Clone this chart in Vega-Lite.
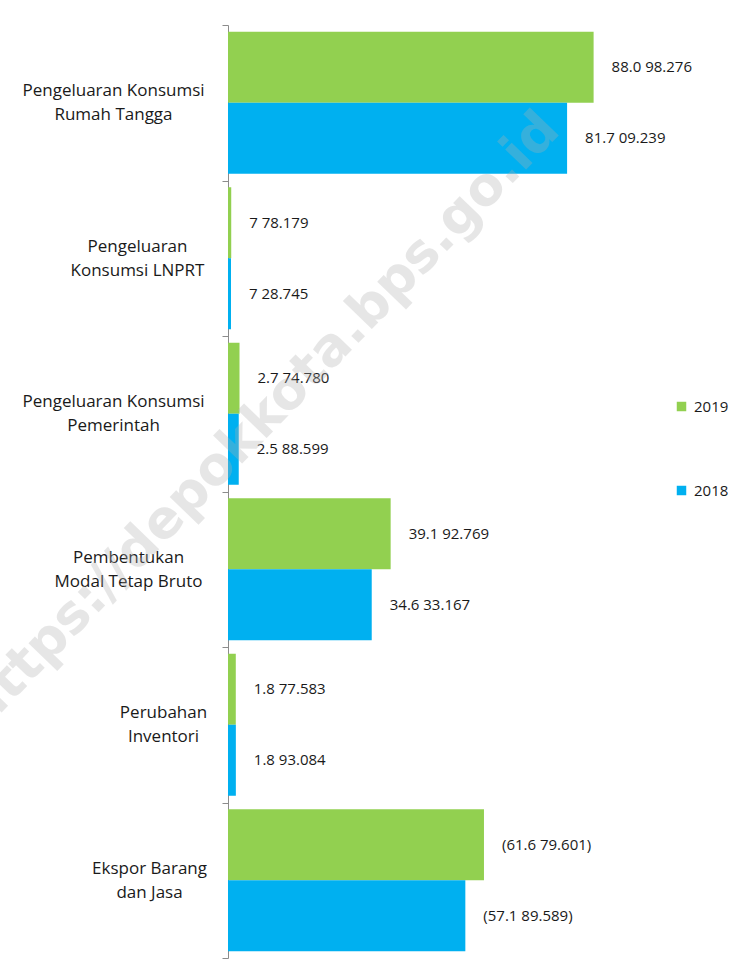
{
  "$schema": "https://vega.github.io/schema/vega-lite/v6.json",
  "width": 415,
  "height": 933,
  "autosize": {"type": "none"},
  "padding": {"left": 228, "top": 25, "right": 100, "bottom": 19},
  "background": "white",
  "config": {
    "view": {"stroke": null},
    "font": "Open Sans"
  },
  "layer": [
    {
      "data": {
        "values": [
          {"category": "Pengeluaran Konsumsi|Rumah Tangga", "year": "2019", "value": 88098.276, "label": "88.0 98.276"},
          {"category": "Pengeluaran Konsumsi|Rumah Tangga", "year": "2018", "value": 81709.239, "label": "81.7 09.239"},
          {"category": "Pengeluaran|Konsumsi LNPRT", "year": "2019", "value": 778.179, "label": "7 78.179"},
          {"category": "Pengeluaran|Konsumsi LNPRT", "year": "2018", "value": 728.745, "label": "7 28.745"},
          {"category": "Pengeluaran Konsumsi|Pemerintah", "year": "2019", "value": 2774.78, "label": "2.7 74.780"},
          {"category": "Pengeluaran Konsumsi|Pemerintah", "year": "2018", "value": 2588.599, "label": "2.5 88.599"},
          {"category": "Pembentukan|Modal Tetap Bruto", "year": "2019", "value": 39192.769, "label": "39.1 92.769"},
          {"category": "Pembentukan|Modal Tetap Bruto", "year": "2018", "value": 34633.167, "label": "34.6 33.167"},
          {"category": "Perubahan|Inventori", "year": "2019", "value": 1877.583, "label": "1.8 77.583"},
          {"category": "Perubahan|Inventori", "year": "2018", "value": 1893.084, "label": "1.8 93.084"},
          {"category": "Ekspor Barang|dan Jasa", "year": "2019", "value": 61679.601, "label": "(61.6 79.601)"},
          {"category": "Ekspor Barang|dan Jasa", "year": "2018", "value": 57189.589, "label": "(57.1 89.589)"}
        ]
      },
      "encoding": {
        "y": {
          "field": "category",
          "type": "nominal",
          "sort": null,
          "scale": {"paddingInner": 0, "paddingOuter": 0},
          "axis": {
            "title": null,
            "domainColor": "#8c8c8c",
            "tickColor": "#8c8c8c",
            "tickSize": 6,
            "tickBand": "extent",
            "labelAlign": "center",
            "labelBaseline": "middle",
            "labelPadding": {
              "condition": [
                {"test": "datum.value == 'Pengeluaran|Konsumsi LNPRT'", "value": 85},
                {"test": "datum.value == 'Pembentukan|Modal Tetap Bruto'", "value": 94},
                {"test": "datum.value == 'Perubahan|Inventori'", "value": 59},
                {"test": "datum.value == 'Ekspor Barang|dan Jasa'", "value": 73}
              ],
              "value": 109
            },
            "labelOffset": -12,
            "labelLimit": 300,
            "labelFontSize": 17,
            "labelColor": "#1a1a1a",
            "labelLineHeight": 24,
            "labelFont": "Open Sans",
            "labelExpr": "split(datum.label, '|')"
          }
        },
        "yOffset": {
          "field": "year",
          "type": "nominal",
          "sort": ["2019", "2018"],
          "scale": {"paddingInner": 0, "paddingOuter": 0.095}
        },
        "x": {
          "field": "value",
          "type": "quantitative",
          "scale": {"domain": [0, 100000], "nice": false},
          "axis": null
        }
      },
      "layer": [
        {
          "mark": {"type": "bar"},
          "encoding": {
            "color": {
              "field": "year",
              "type": "nominal",
              "scale": {"domain": ["2019", "2018"], "range": ["#92d050", "#00b0f0"]},
              "legend": {
                "title": null,
                "orient": "none",
                "legendX": 446,
                "legendY": 374,
                "symbolType": "square",
                "symbolSize": 90,
                "symbolStrokeWidth": 0,
                "rowPadding": 68,
                "labelFontSize": 15,
                "labelColor": "#1a1a1a",
                "labelOffset": 5
              }
            }
          }
        },
        {
          "mark": {"type": "text", "align": "left", "baseline": "middle", "dx": 18, "fontSize": 15, "color": "#1a1a1a"},
          "encoding": {"text": {"field": "label"}}
        }
      ]
    },
    {
      "data": {"values": [{"category": "Pengeluaran Konsumsi|Pemerintah", "value": 6600, "wm": "https://depokkota.bps.go.id"}]},
      "mark": {"type": "text", "angle": -46, "align": "center", "baseline": "middle", "dy": 9, "fontSize": 53, "fontWeight": "bold", "font": "DejaVu Sans", "color": "#b0b0b0", "opacity": 0.3},
      "encoding": {
        "y": {"field": "category", "type": "nominal", "sort": null},
        "x": {"field": "value", "type": "quantitative"},
        "text": {"field": "wm"}
      }
    }
  ]
}
